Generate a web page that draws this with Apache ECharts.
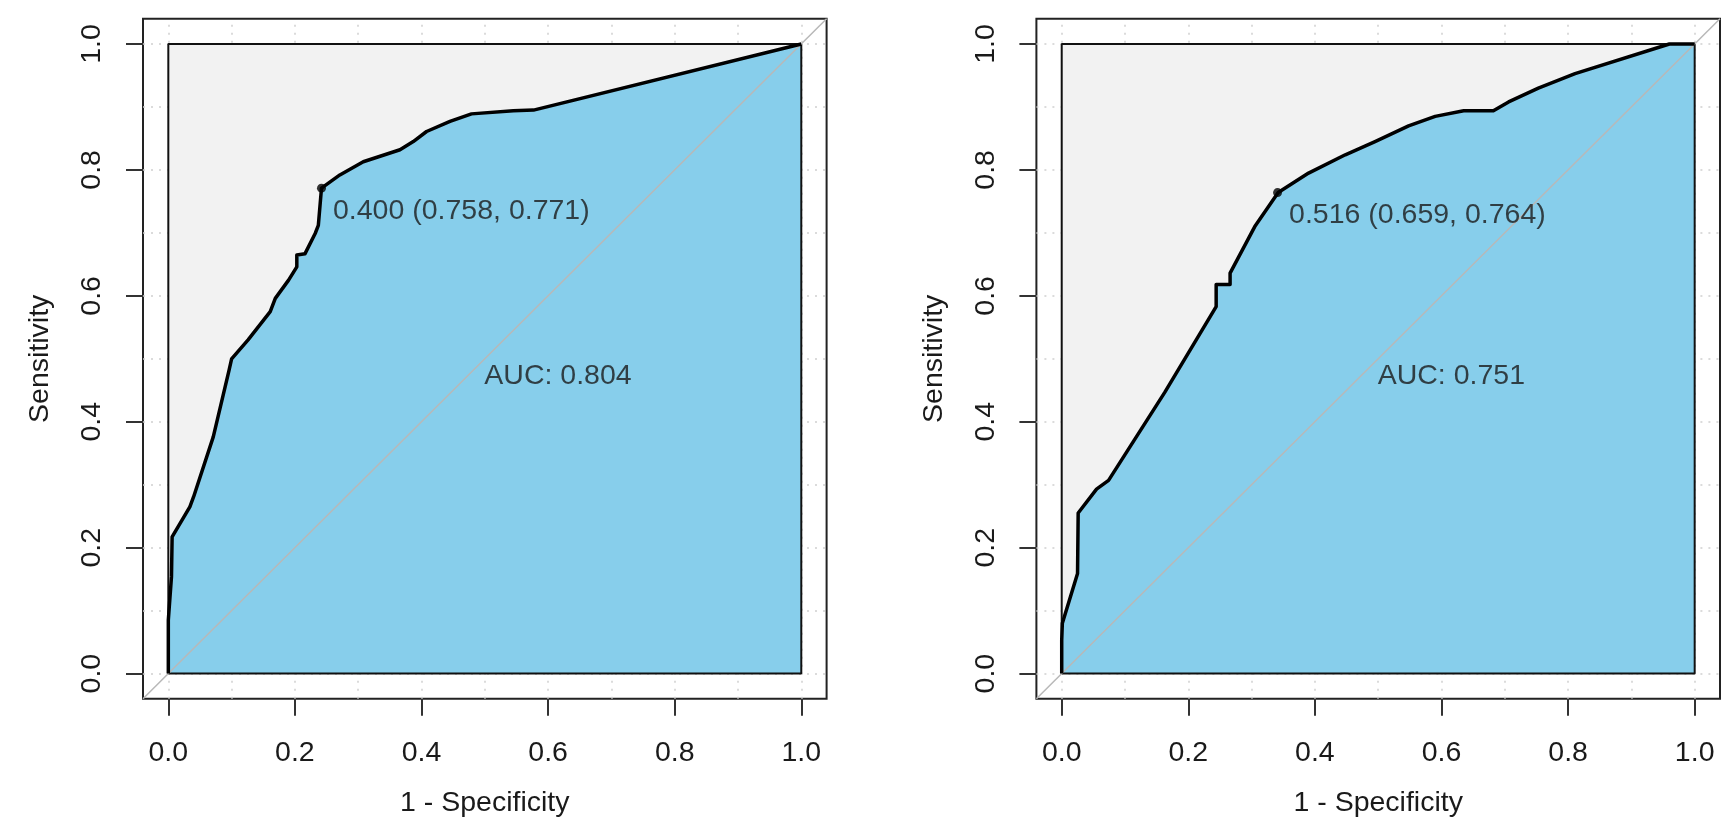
<!DOCTYPE html>
<html>
<head>
<meta charset="utf-8">
<title>ROC curves</title>
<script src="https://cdn.jsdelivr.net/npm/echarts@6/dist/echarts.min.js"></script>
<style>
  html, body { margin: 0; padding: 0; background: #fff; }
  #main { width: 1730px; height: 839px; }
</style>
</head>
<body>
<div id="main"></div>
<script>
// axis ticks and dotted grid
const tickValues = [0, 0.2, 0.4, 0.6, 0.8, 1.0];
const gridValues = [0, 0.1, 0.2, 0.3, 0.4, 0.5, 0.6, 0.7, 0.8, 0.9, 1.0];

// left ROC curve (1 - specificity, sensitivity)
const leftFpr = [0, 0, 0.005, 0.006, 0.034, 0.04, 0.071, 0.096, 0.1, 0.126, 0.161, 0.169, 0.19, 0.203, 0.203, 0.216, 0.232, 0.237, 0.242,
  0.271, 0.308, 0.366, 0.387, 0.408, 0.445, 0.479, 0.545, 0.577, 1];
const leftTpr = [0, 0.085, 0.154, 0.217, 0.265, 0.281, 0.376, 0.482, 0.5, 0.53, 0.575, 0.596, 0.625, 0.646, 0.665, 0.667, 0.699, 0.712, 0.771,
  0.792, 0.813, 0.832, 0.845, 0.861, 0.877, 0.889, 0.894, 0.895, 1];
const leftCut = { threshold: 0.400, specificity: 0.758, sensitivity: 0.771 };
const leftAuc = 0.804;

// right ROC curve
const rightFpr = [0, 0, 0.001, 0.025, 0.026, 0.055, 0.074, 0.163, 0.244, 0.244, 0.266, 0.266, 0.305, 0.342,
  0.39, 0.448, 0.495, 0.548, 0.59, 0.635, 0.682, 0.706, 0.753, 0.811, 0.96, 1];
const rightTpr = [0, 0.053, 0.08, 0.159, 0.255, 0.293, 0.307, 0.447, 0.583, 0.618, 0.618, 0.636, 0.71, 0.764,
  0.795, 0.824, 0.845, 0.87, 0.885, 0.894, 0.894, 0.908, 0.93, 0.953, 1, 1];
const rightCut = { threshold: 0.516, specificity: 0.659, sensitivity: 0.764 };
const rightAuc = 0.751;

const FONT = 'Liberation Sans, Arial, sans-serif';
const FS = 28.5;
const TEXT = '#1a1a1a';
const BLUE = '#87CEEB';
const PANEL = '#F2F2F2';

const zip = (xs, ys) => xs.map((x, i) => [x, ys[i]]);

function makeAxis(i, isX) {
  return {
    type: 'value',
    gridIndex: i,
    min: -0.04,
    max: 1.04,
    name: isX ? '1 - Specificity' : 'Sensitivity',
    nameLocation: 'middle',
    nameGap: isX ? 90 : 88,
    nameTextStyle: { fontFamily: FONT, fontSize: FS, color: TEXT },
    axisLine: { show: false, onZero: false },
    axisTick: {
      show: true,
      customValues: tickValues,
      length: 17,
      lineStyle: { color: '#333', width: 2 }
    },
    axisLabel: {
      show: true,
      customValues: tickValues,
      formatter: v => v.toFixed(1),
      fontFamily: FONT,
      fontSize: FS,
      color: TEXT,
      margin: isX ? 40 : 36,
      rotate: isX ? 0 : 90
    },
    splitLine: { show: false }
  };
}

function makeSeries(i, fpr, tpr, cut, auc) {
  const base = { xAxisIndex: i, yAxisIndex: i, silent: true, animation: false };
  const gridLines = gridValues.map(v => ({ xAxis: v })).concat(gridValues.map(v => ({ yAxis: v })));
  return [
    // dotted grid
    Object.assign({}, base, {
      type: 'line', z: 1, data: [[0, 0]], symbol: 'none', lineStyle: { width: 0 },
      markLine: {
        z: 1, silent: true, animation: false, symbol: ['none', 'none'], label: { show: false },
        lineStyle: { color: '#d0d0d0', type: [2, 6], width: 1.5 },
        data: gridLines
      }
    }),
    // max auc square
    Object.assign({}, base, {
      type: 'line', z: 2, data: [[0, 1], [1, 1]], symbol: 'none',
      lineStyle: { width: 0 }, areaStyle: { color: PANEL, opacity: 1 }
    }),
    // auc polygon
    Object.assign({}, base, {
      type: 'line', z: 3, data: zip(fpr, tpr), symbol: 'none',
      lineStyle: { width: 0 }, areaStyle: { color: BLUE, opacity: 1 }
    }),
    // square border
    Object.assign({}, base, {
      type: 'line', z: 4, data: [[0, 0], [0, 1], [1, 1], [1, 0], [0, 0]], symbol: 'none',
      lineStyle: { color: '#111', width: 2 }
    }),
    // identity line
    Object.assign({}, base, {
      type: 'line', z: 5, data: [[-0.04, -0.04], [1.04, 1.04]], symbol: 'none',
      lineStyle: { color: '#b8b8b8', width: 1.5 }
    }),
    // roc curve
    Object.assign({}, base, {
      type: 'line', z: 6, data: zip(fpr, tpr), symbol: 'none',
      lineStyle: { color: '#000', width: 3.5, join: 'round' }
    }),
    // best threshold
    Object.assign({}, base, {
      type: 'scatter', z: 7, symbol: 'circle', symbolSize: 9,
      itemStyle: { color: '#000' },
      data: [[1 - cut.specificity, cut.sensitivity]],
      label: {
        show: true, position: [16, 27], align: 'left', verticalAlign: 'middle',
        fontFamily: FONT, fontSize: FS, color: TEXT,
        formatter: () => cut.threshold.toFixed(3) + ' (' + cut.specificity.toFixed(3) + ', ' + cut.sensitivity.toFixed(3) + ')'
      }
    }),
    // auc text
    Object.assign({}, base, {
      type: 'scatter', z: 7, symbol: 'circle', symbolSize: 1,
      itemStyle: { color: 'rgba(0,0,0,0)' },
      data: [[0.5, 0.5]],
      label: {
        show: true, position: [0, 3], align: 'left', verticalAlign: 'top',
        fontFamily: FONT, fontSize: FS, color: TEXT,
        formatter: () => 'AUC: ' + auc.toFixed(3)
      }
    })
  ];
}

const chart = echarts.init(document.getElementById('main'));
const gridStyle = { show: true, top: 18.8, width: 683.6, height: 680, borderColor: '#222', borderWidth: 2, backgroundColor: '#fff' };

chart.setOption({
  animation: false,
  backgroundColor: '#fff',
  grid: [
    Object.assign({ left: 143 }, gridStyle),
    Object.assign({ left: 1036.4 }, gridStyle)
  ],
  xAxis: [makeAxis(0, true), makeAxis(1, true)],
  yAxis: [makeAxis(0, false), makeAxis(1, false)],
  series: makeSeries(0, leftFpr, leftTpr, leftCut, leftAuc)
    .concat(makeSeries(1, rightFpr, rightTpr, rightCut, rightAuc))
});
</script>
</body>
</html>
